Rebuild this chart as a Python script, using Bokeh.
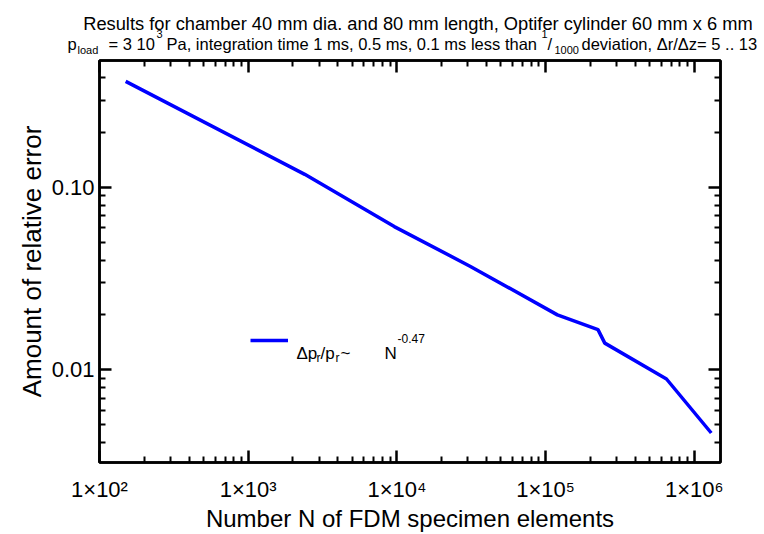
from bokeh.plotting import figure
from bokeh.layouts import column, row
from bokeh.models import (LogAxis, FixedTicker, CustomJSTickFormatter, Label,
                          Legend, LegendItem, ColumnDataSource)
from bokeh.core.properties import value
from bokeh.embed import file_html
from bokeh.resources import INLINE

# ---------------- data ----------------
n_elements = [150, 2400, 9600, 31000, 120000, 225000, 250000, 650000, 1300000]
rel_error = [0.382, 0.118, 0.061, 0.037, 0.020, 0.0166, 0.014, 0.0089, 0.0045]

x_major = [1e2, 1e3, 1e4, 1e5, 1e6]
x_tick_labels = ["1×10²", "1×10³", "1×10⁴", "1×10⁵", "1×10⁶"]
y_major = [0.01, 0.1]
y_tick_labels = ["0.01", "0.10"]

x_title = "Number N of FDM specimen elements"
y_title = "Amount of relative error"
title_line1 = "Results for  chamber 40 mm dia. and 80 mm length, Optifer cylinder 60 mm x 6 mm"
# second title line pieces: (text, role)  role: n=normal, sub, sup
title_line2 = [("p", "n"), ("load", "sub"), ("= 3 10", "n"), ("3", "sup"),
               ("Pa, integration time  1 ms, 0.5 ms, 0.1 ms less than", "n"),
               ("1", "sup"), ("/", "n"), ("1000", "sub"),
               ("deviation, Δr/Δz= 5 .. 13", "n")]
legend_pieces = [("Δp", "n"), ("r", "sub"), ("/p", "n"), ("r", "sub"),
                 ("~", "n"), ("N", "n"), ("-0.47", "sup")]

FONT = "Liberation Sans"
TOP_H = 58          # height of the title strip
W, H = 764, 534


def add_text(fig, txt, x, y, size, align="left"):
    fig.add_layout(Label(x=x, y=y, x_units="canvas", y_units="canvas",
                         text=txt, text_font=FONT, text_font_size=f"{size}px",
                         text_align=align, text_baseline="alphabetic",
                         text_color="black"))


# ---------------- title strip ----------------
t = figure(width=W, height=TOP_H, x_range=(0, W), y_range=(TOP_H, 0),
           x_axis_location=None, y_axis_location=None,
           output_backend="svg", toolbar_location=None,
           min_border=0, min_border_left=0, min_border_right=0,
           min_border_top=0, min_border_bottom=0)
t.outline_line_color = None
t.xgrid.visible = False
t.ygrid.visible = False
t.background_fill_color = "white"
t.border_fill_color = "white"

add_text(t, title_line1, 420, 23, 18.3, align="center")
t2_x = [67, 77, 108, 156, 166, 541, 547, 554, 581]
t2_y = {"n": 43, "sub": 49, "sup": 33}
t2_s = {"n": 16.5, "sub": 11, "sup": 11}
for (txt, role), xx in zip(title_line2, t2_x):
    add_text(t, txt, xx, t2_y[role], t2_s[role])

# ---------------- main chart ----------------
p = figure(width=W, height=H - TOP_H, x_axis_type="log", y_axis_type="log",
           x_range=(100, 1.5e6), y_range=(0.0031, 0.497),
           output_backend="svg", toolbar_location=None,
           min_border_left=99, min_border_right=44, min_border_top=2,
           min_border_bottom=68)
p.background_fill_color = "white"
p.border_fill_color = "white"
p.outline_line_color = "black"
p.outline_line_width = 2.5
p.xgrid.visible = False
p.ygrid.visible = False

src = ColumnDataSource(dict(n=n_elements, err=rel_error))
r = p.line("n", "err", source=src, line_color="#0000ff", line_width=3.5)

x_minor = [k * 10 ** d for d in range(2, 7) for k in range(2, 10)]
y_minor = [k * 10.0 ** d for d in (-3, -2, -1) for k in range(2, 10)]
xticker = FixedTicker(ticks=x_major, minor_ticks=x_minor)
yticker = FixedTicker(ticks=y_major, minor_ticks=y_minor)

lookup = """
for (let i = 0; i < t.length; i++) { if (Math.abs(tick / t[i] - 1) < 1e-6) return l[i]; }
return '';"""
xfmt = CustomJSTickFormatter(args=dict(t=x_major, l=x_tick_labels), code=lookup)
yfmt = CustomJSTickFormatter(args=dict(t=y_major, l=y_tick_labels), code=lookup)
blank = CustomJSTickFormatter(code="return '';")


def style_axis(ax):
    ax.axis_line_width = 2.5
    ax.axis_line_color = "black"
    ax.major_tick_in = 12
    ax.major_tick_out = 0
    ax.minor_tick_in = 6
    ax.minor_tick_out = 0
    ax.major_tick_line_width = 2.5
    ax.minor_tick_line_width = 2
    ax.major_label_text_font = FONT
    ax.major_label_text_font_size = "22px"
    ax.major_label_text_color = "black"
    ax.axis_label_text_font = FONT
    ax.axis_label_text_font_style = "normal"
    ax.axis_label_text_color = "black"


xa = p.xaxis[0]
xa.ticker = xticker
xa.formatter = xfmt
style_axis(xa)
xa.major_label_standoff = 14
xa.axis_label = x_title
xa.axis_label_text_font_size = "24px"
xa.axis_label_standoff = 0

ya = p.yaxis[0]
ya.ticker = yticker
ya.formatter = yfmt
style_axis(ya)
ya.major_label_standoff = 5
ya.axis_label = y_title
ya.axis_label_text_font_size = "26px"
ya.axis_label_standoff = 2

top_ax = LogAxis(ticker=xticker, formatter=blank)
style_axis(top_ax)
top_ax.major_label_standoff = 0
top_ax.major_label_text_font_size = "0px"
p.add_layout(top_ax, "above")
right_ax = LogAxis(ticker=yticker, formatter=blank)
style_axis(right_ax)
right_ax.major_label_standoff = 0
right_ax.major_label_text_font_size = "0px"
p.add_layout(right_ax, "right")

# legend (sample line from the library legend, text composed with labels)
FL, FB = 99, 466 - TOP_H
legend = Legend(items=[LegendItem(label=value(""), renderers=[r])],
                location=(250 - FL, FB - (347 - TOP_H)), glyph_width=38,
                glyph_height=6, label_height=6, label_width=0, label_standoff=0,
                padding=0, margin=0, spacing=0, border_line_color=None,
                background_fill_alpha=0, label_text_font_size="1px")
p.add_layout(legend)
lg_x = [296, 316, 320, 335, 340, 384, 397]
lg_y = {"n": 353, "sub": 357, "sup": 338}
lg_s = {"n": 17, "sub": 12, "sup": 12}
for (txt, role), xx in zip(legend_pieces, lg_x):
    add_text(p, txt, xx, lg_y[role] - TOP_H, lg_s[role])

layout = column(row(t), p, spacing=0)
open("out.html", "w").write(file_html(layout, INLINE))
